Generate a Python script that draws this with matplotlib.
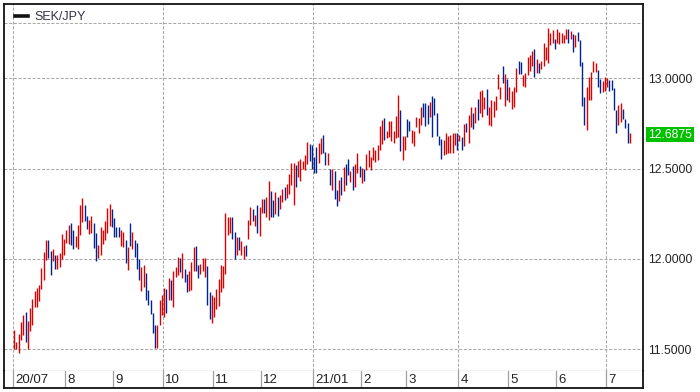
import matplotlib
matplotlib.use("Agg")
import matplotlib.pyplot as plt
import matplotlib.transforms as mtransforms
import pandas as pd

pair = "SEK/JPY"
last_price = 12.6875
start_date = "2020-07-01"

highs = [
    # Jul-Aug 2020
    11.606, 11.540, 11.584, 11.651, 11.688, 11.706, 11.654, 11.728, 11.780, 11.824,
    11.839, 11.857, 11.950, 12.038, 12.105, 12.105, 12.046, 12.057, 12.020, 12.023,
    12.031, 12.138, 12.112, 12.160, 12.189, 12.197, 12.160, 12.127, 12.189, 12.300,
    12.337, 12.300, 12.237, 12.215,
    # Aug-Sep
    12.237, 12.201, 12.142, 12.079, 12.178, 12.160, 12.212, 12.282, 12.304, 12.278,
    12.226, 12.178, 12.175, 12.160, 12.149, 12.105, 12.068, 12.201, 12.149, 12.105,
    12.086, 11.998, 11.957, 11.964, 11.920, 11.828, 11.772, 11.699, 11.636, 11.636,
    11.772, 11.798, 11.839, 11.835, 11.894,
    # Oct-Nov
    11.883, 11.935, 11.957, 12.009, 12.005, 12.035, 11.942, 11.916, 11.935, 11.983,
    12.064, 12.071, 11.968, 11.972, 12.005, 12.005, 11.961, 11.817, 11.802, 11.787,
    11.835, 11.891, 11.964, 11.961, 12.256, 12.234, 12.230, 12.234, 12.149, 12.123,
    12.119, 12.101, 12.071, 12.079,
    # Nov-Jan
    12.215, 12.286, 12.274, 12.241, 12.297, 12.289, 12.330, 12.334, 12.341, 12.433,
    12.378, 12.326, 12.370, 12.341, 12.352, 12.385, 12.396, 12.415, 12.470, 12.529,
    12.533, 12.522, 12.544, 12.551, 12.544, 12.577, 12.647, 12.636, 12.633, 12.562,
    12.621, 12.643, 12.669, 12.684,
    # Jan-Apr 2021
    12.592, 12.585, 12.500, 12.500, 12.489, 12.381, 12.437, 12.455, 12.511, 12.525,
    12.555, 12.489, 12.514, 12.525, 12.585, 12.514, 12.503, 12.500, 12.581, 12.603,
    12.562, 12.621, 12.603, 12.633, 12.736, 12.769, 12.780, 12.710, 12.765, 12.765,
    12.710, 12.791, 12.907, 12.824, 12.680, 12.680, 12.777, 12.765, 12.714, 12.710,
    12.784, 12.780, 12.843, 12.861, 12.861, 12.850, 12.869, 12.900, 12.890, 12.806,
    12.680, 12.666, 12.658, 12.695, 12.680, 12.684, 12.695, 12.695, 12.695, 12.688,
    12.677, 12.747, 12.754, 12.799,
    # Apr-Jul 2021
    12.839, 12.806, 12.839, 12.884, 12.932, 12.935, 12.898, 12.939, 12.843, 12.880,
    12.876, 12.902, 13.024, 12.950, 13.065, 13.024, 12.998, 12.950, 12.928, 12.954,
    13.057, 13.098, 13.090, 13.016, 13.031, 13.120, 13.127, 13.149, 13.164, 13.105,
    13.083, 13.098, 13.197, 13.175, 13.279, 13.249, 13.267, 13.216, 13.271, 13.256,
    13.253, 13.242, 13.275, 13.271, 13.264, 13.245, 13.242, 13.256, 13.212, 13.090,
    12.895, 12.954, 13.009, 13.035, 13.098, 13.087, 13.046, 12.998, 12.983, 13.005,
    13.002, 12.991, 12.991, 12.946, 12.824, 12.850, 12.865, 12.828, 12.777, 12.751,
    12.699,
]

lows = [
    11.503, 11.503, 11.481, 11.551, 11.577, 11.540, 11.503, 11.599, 11.636, 11.732,
    11.735, 11.765, 11.832, 11.883, 11.994, 12.005, 11.909, 11.986, 11.942, 11.942,
    11.957, 11.998, 12.023, 12.090, 12.082, 12.075, 12.053, 12.064, 12.053, 12.130,
    12.204, 12.208, 12.164, 12.138,
    12.142, 12.060, 11.990, 12.005, 12.023, 12.082, 12.105, 12.142, 12.182, 12.178,
    12.119, 12.120, 12.123, 12.071, 12.064, 11.979, 11.939, 12.071, 12.053, 12.012,
    11.946, 11.883, 11.820, 11.846, 11.772, 11.743, 11.695, 11.588, 11.507, 11.507,
    11.632, 11.688, 11.680, 11.702, 11.772,
    11.773, 11.732, 11.898, 11.909, 11.928, 11.894, 11.872, 11.817, 11.824, 11.828,
    11.935, 11.931, 11.894, 11.916, 11.931, 11.902, 11.743, 11.669, 11.647, 11.680,
    11.724, 11.739, 11.817, 11.839, 11.916, 12.134, 12.145, 12.108, 11.998, 12.023,
    12.049, 12.020, 12.001, 12.016,
    12.108, 12.186, 12.208, 12.182, 12.145, 12.127, 12.252, 12.252, 12.230, 12.215,
    12.234, 12.230, 12.249, 12.238, 12.278, 12.315, 12.326, 12.337, 12.359, 12.407,
    12.297, 12.400, 12.455, 12.433, 12.500, 12.492, 12.525, 12.544, 12.500, 12.477,
    12.474, 12.529, 12.581, 12.584,
    12.518, 12.518, 12.411, 12.381, 12.333, 12.293, 12.322, 12.352, 12.374, 12.407,
    12.463, 12.426, 12.381, 12.400, 12.474, 12.452, 12.422, 12.429, 12.492, 12.511,
    12.492, 12.548, 12.537, 12.548, 12.603, 12.636, 12.658, 12.669, 12.677, 12.651,
    12.644, 12.669, 12.677, 12.599, 12.548, 12.603, 12.673, 12.710, 12.640, 12.625,
    12.728, 12.695, 12.740, 12.784, 12.736, 12.747, 12.784, 12.677, 12.795, 12.680,
    12.632, 12.555, 12.577, 12.581, 12.585, 12.585, 12.585, 12.629, 12.603, 12.651,
    12.603, 12.625, 12.703, 12.640,
    12.732, 12.717, 12.751, 12.769, 12.806, 12.788, 12.828, 12.795, 12.740, 12.736,
    12.788, 12.825, 12.943, 12.887, 12.972, 12.847, 12.880, 12.869, 12.832, 12.843,
    12.924, 13.024, 13.024, 12.957, 12.950, 13.016, 13.042, 13.065, 13.005, 13.031,
    13.031, 13.050, 13.065, 13.101, 13.087, 13.186, 13.194, 13.164, 13.194, 13.190,
    13.197, 13.194, 13.219, 13.194, 13.216, 13.146, 13.175, 13.208, 13.065, 12.847,
    12.743, 12.714, 12.880, 12.880, 13.035, 13.035, 12.954, 12.917, 12.924, 12.928,
    12.950, 12.932, 12.935, 12.825, 12.695, 12.740, 12.758, 12.777, 12.725, 12.640,
    12.640,
]

# u = up bar (red), d = down bar (blue); one character per bar
direction = "".join([
    # Jul-Aug 2020 (34)
    "uuuuuduuuu", "uuuuuddudu", "uuuuudduuu", "uddu",
    # Aug-Sep (35)
    "uddu", "uuuuuddddu", "udududdduu", "ddddduuuud", "u",
    # Oct-Nov (34)
    "duuududduu", "udduuudduu", "uuuuuuuddu", "duud",
    # Nov-Jan (34)
    "uududuuduu", "dduduuduuu", "uduuuuuddd", "duud",
    # Jan-Apr 2021 (64)
    "dududdudud", "duduududuu", "uuuuuuduuu", "uuuduudduu", "uuuddduddd",
    "dduuuuuudu", "dudu",
    # Apr-Jul 2021 (71)
    "ududuuuduu", "uuuududuuu", "udduuuuudu", "duuuuuuduu", "uuudududdd",
    "duuuuudduu", "udddduudddu",
])

y_ticks = [11.5, 12.0, 12.5, 13.0]
extra_grid = [13.306]

W, H = 700, 392
fig = plt.figure(figsize=(W / 100, H / 100), dpi=100)


def rect(x0, y0, x1, y1):
    return [x0 / W, 1 - y1 / H, (x1 - x0) / W, (y1 - y0) / H]


ax = fig.add_axes(rect(4, 4, 643, 371))
axs = fig.add_axes(rect(4, 371, 643, 388), sharex=ax)

n = len(highs)
xs = list(range(n))
red, blue = "#dd0000", "#00238c"
cols = [red if d == "u" else blue for d in direction[:n]]
ax.vlines(xs, lows, highs, colors=cols, linewidth=1.0)

# month starts (business days)
full_dates = pd.bdate_range(start_date, "2021-07-31")
month_idx, month_lab = [], []
prev = None
for i, d in enumerate(full_dates):
    key = (d.year, d.month)
    if key != prev:
        month_idx.append(i)
        month_lab.append(d.strftime("%y/%m") if (d.month == 1 or i == 0) else str(d.month))
        prev = key

ax.set_xlim(-4.5, 276.8)
ax.set_ylim(11.379, 13.411)

grid_kw = dict(color="#a8a8a8", linewidth=0.75, linestyle=(0, (2.9, 1.6)), zorder=0)
for y in y_ticks + extra_grid:
    ax.axhline(y, **grid_kw)
for mi, ml in zip(month_idx, month_lab):
    d = full_dates[mi]
    if d.month in (1, 4, 7, 10):
        ax.axvline(mi - 0.5, **grid_kw)
    axs.axvline(mi - 0.5, color="#a0a0a0", linewidth=0.9)
    axs.text(mi - 0.5 + 1.0, 0.45, ml, fontsize=9.5, family="Liberation Sans",
             color="#222222", ha="left", va="center")

ax.set_xticks([])
ax.yaxis.tick_right()
ax.set_yticks(y_ticks)
ax.set_yticklabels([f"{v:.4f}" for v in y_ticks], fontsize=8.7,
                   family="Liberation Sans", color="#222222")
ax.tick_params(axis="y", length=0, pad=4)

for s in ("top", "left", "right"):
    ax.spines[s].set_color("#111111")
    ax.spines[s].set_linewidth(1.3)
ax.spines["bottom"].set_color("#a0a0a0")
ax.spines["bottom"].set_linewidth(0.9)

axs.set_ylim(0, 1)
axs.set_yticks([])
axs.tick_params(axis="x", length=0, labelbottom=False)
for s in ("left", "right", "bottom"):
    axs.spines[s].set_color("#111111")
    axs.spines[s].set_linewidth(1.3)
axs.spines["top"].set_visible(False)

# last price label
trans = mtransforms.blended_transform_factory(ax.transAxes, ax.transData)
ax.text(1.0 + 5 / 639, last_price, f"{last_price:.4f}", transform=trans,
        fontsize=8.7, family="Liberation Sans", color="white", ha="left", va="center",
        bbox=dict(boxstyle="square,pad=0.15", facecolor="#00c000", edgecolor="none"),
        clip_on=False)

# legend
fig.lines.append(plt.Line2D([15 / W, 28 / W], [1 - 16 / H, 1 - 16 / H], color="#111111",
                            linewidth=2.6, transform=fig.transFigure))
fig.text(34 / W, 1 - 16.5 / H, pair, fontsize=9, family="Liberation Sans",
         color="#333344", ha="left", va="center")

fig.savefig("out.png", dpi=100)
